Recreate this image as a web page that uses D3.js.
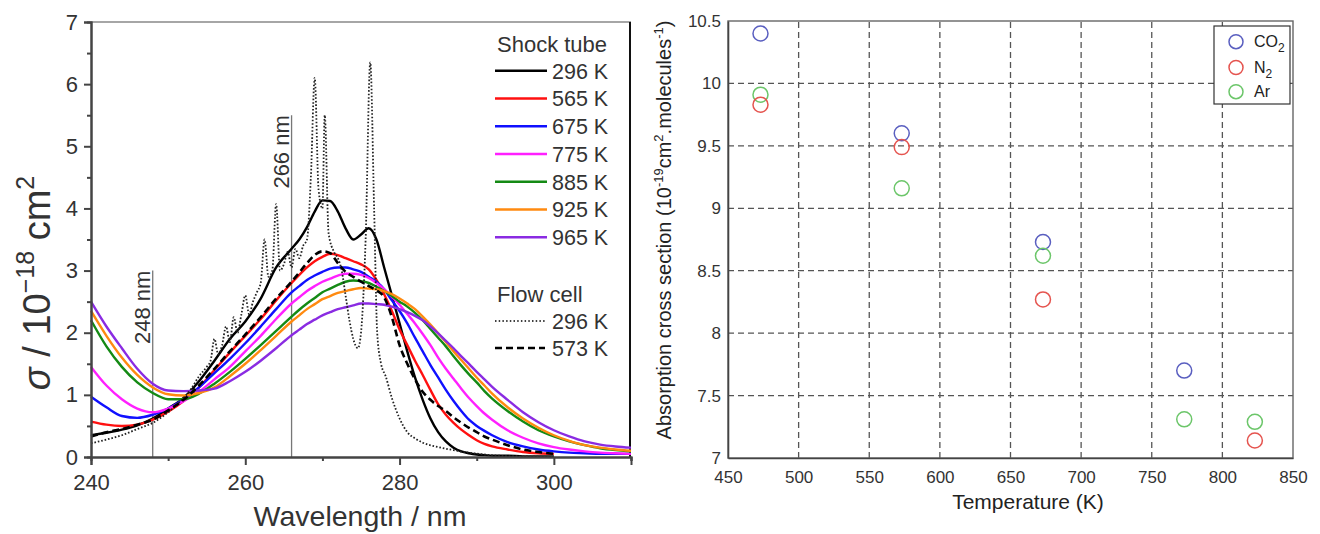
<!DOCTYPE html>
<html>
<head>
<meta charset="utf-8">
<script src="https://cdn.jsdelivr.net/npm/d3@7"></script>
<style>
  body { margin: 0; background: #fff; }
  svg { display: block; font-family: "Liberation Sans", Arial, sans-serif; }
</style>
</head>
<body>
<script>
const width = 1320;
const height = 534;

// ---- left panel: absorption spectra ----
const wl = [240,242,244,246,248,250,252,254,256,258,260,262,264,266,
  267,268,269,270,271,272,273,274,275,276,277,278,279,280,281,282,283,284,285,286,287,288,289,290,291,
  292,294,296,298,300,302,304,306,308,310];

const shock296 = [0.35,0.39,0.44,0.51,0.62,0.78,0.95,1.22,1.55,1.9,2.18,2.55,3.05,3.35,
  3.5,3.7,3.95,4.13,4.12,3.95,3.68,3.5,3.58,3.68,3.5,3.05,2.6,2.15,1.7,1.28,0.92,0.62,0.4,0.25,0.15,0.09,0.06,0.04,0.03,
  0.02,0.02,0.01,0.01,0.01,null,null,null,null,null];
const shock565 = [0.57,0.52,0.5,0.52,0.6,0.73,0.9,1.12,1.4,1.68,1.95,2.22,2.52,2.8,
  2.93,3.05,3.15,3.22,3.27,3.25,3.2,3.15,3.1,3.02,2.85,2.62,2.35,2.05,1.8,1.55,1.32,1.08,0.85,0.68,0.55,0.44,0.35,0.27,0.21,
  0.17,0.12,0.08,0.06,0.05,null,null,null,null,null];
const shock675 = [0.97,0.8,0.66,0.63,0.68,0.78,0.93,1.12,1.35,1.58,1.83,2.1,2.38,2.65,
  2.75,2.85,2.92,2.98,3.03,3.05,3.05,3.02,2.98,2.9,2.82,2.7,2.52,2.35,2.15,1.92,1.7,1.48,1.28,1.08,0.9,0.74,0.6,0.5,0.42,
  0.35,0.24,0.17,0.12,0.09,0.07,0.06,0.05,0.05,0.05];
const shock775 = [1.45,1.15,0.93,0.78,0.72,0.78,0.9,1.05,1.25,1.45,1.7,1.95,2.22,2.47,
  2.57,2.67,2.75,2.82,2.87,2.92,2.95,2.95,2.93,2.88,2.8,2.7,2.58,2.45,2.3,2.15,1.98,1.8,1.6,1.42,1.26,1.1,0.95,0.82,0.7,
  0.6,0.43,0.31,0.22,0.16,0.12,0.09,0.07,0.06,0.05];
const shock885 = [2.2,1.78,1.45,1.2,1.03,0.93,0.93,1.02,1.18,1.37,1.58,1.8,2.03,2.26,
  2.37,2.47,2.56,2.65,2.71,2.77,2.82,2.84,2.83,2.8,2.74,2.67,2.59,2.5,2.42,2.32,2.2,2.06,1.92,1.78,1.62,1.47,1.33,1.2,1.06,
  0.94,0.74,0.57,0.43,0.33,0.25,0.19,0.14,0.11,0.09];
const shock925 = [2.35,1.95,1.6,1.32,1.12,1.01,0.99,1.03,1.12,1.3,1.5,1.72,1.95,2.18,
  2.28,2.38,2.46,2.54,2.59,2.64,2.67,2.7,2.72,2.71,2.7,2.67,2.62,2.55,2.47,2.38,2.26,2.13,1.99,1.85,1.7,1.56,1.42,1.28,1.15,
  1.02,0.8,0.62,0.47,0.35,0.26,0.19,0.15,0.12,0.1];
const shock965 = [2.5,2.1,1.75,1.42,1.18,1.07,1.06,1.07,1.1,1.22,1.37,1.55,1.75,1.96,
  2.05,2.14,2.21,2.28,2.33,2.38,2.41,2.44,2.47,2.47,2.46,2.45,2.42,2.38,2.33,2.27,2.2,2.1,1.99,1.87,1.75,1.62,1.5,1.37,1.25,
  1.13,0.92,0.72,0.56,0.43,0.33,0.25,0.2,0.17,0.15];
const flow573 = [0.33,0.4,0.45,0.52,0.6,0.75,0.92,1.15,1.42,1.7,1.97,2.25,2.55,2.82,
  2.97,3.12,3.25,3.31,3.28,3.12,2.98,2.9,2.82,2.75,2.68,2.57,2.25,1.8,1.5,1.25,1.05,0.92,0.82,0.74,0.64,0.55,0.47,0.4,0.33,
  0.28,0.19,0.12,0.08,0.05,null,null,null,null,null];

const flowWl = [240,242,244,246,248,250,252,253,254,255,255.5,256,256.5,257,257.5,258,258.5,259,259.5,260,
  260.5,261,261.5,262,262.5,263,263.5,264,264.5,265,265.5,266,266.5,267,267.5,268,268.5,269,269.5,270,
  270.3,270.8,271.5,272,272.5,273,273.5,274,274.6,275,275.6,276.2,276.7,277.1,277.6,278.2,279,280,281,282,
  283,285,287,289,291,293,296,300];
const flow296 = [0.22,0.28,0.35,0.45,0.55,0.72,0.95,1.1,1.3,1.45,1.55,1.9,1.65,1.8,2.1,1.85,2.25,2.0,2.3,2.6,
  2.3,2.5,2.65,2.8,3.5,2.9,3.0,4.07,3.0,3.1,3.3,3.05,3.35,3.2,3.4,3.5,4.5,6.1,4.3,4.0,
  5.5,3.6,3.3,3.2,3.0,2.6,2.2,1.9,1.75,2.0,3.5,6.35,4.0,2.0,1.5,1.3,0.95,0.62,0.4,0.3,
  0.23,0.16,0.11,0.07,0.04,0.02,0.01,0.0];

const shockLabels = ["296 K","565 K","675 K","775 K","885 K","925 K","965 K"];
const shockColors = ["#000000","#ff1010","#1010ff","#ff20ff","#148a14","#ff8a10","#8a2be2"];
const shockSeries = [shock296, shock565, shock675, shock775, shock885, shock925, shock965];
const flowLabels = ["296 K","573 K"];

const specXTicks = [240,260,280,300];
const specXMinor = [250,270,290,310];
const specYTicks = [0,1,2,3,4,5,6,7];
const specYMinor = [0.5,1.5,2.5,3.5,4.5,5.5,6.5];
const markLines = [{nm: 248, top: 3.0}, {nm: 266, top: 5.5}];

// ---- right panel: cross section vs temperature ----
const gases = ["CO2","N2","Ar"];
const co2Temp = [473,573,673,773];
const co2Sigma = [10.4,9.6,8.73,7.7];
const n2Temp = [473,573,673,823];
const n2Sigma = [9.83,9.49,8.27,7.14];
const arTemp = [473,573,673,773,823];
const arSigma = [9.91,9.16,8.62,7.31,7.29];
const gasColors = ["#5a5fc0","#e5544f","#6cc66a"];
const tempTicks = [450,500,550,600,650,700,750,800,850];
const sigmaTicks = [7,7.5,8,8.5,9,9.5,10,10.5];

const svg = d3.select('body')
              .append('svg')
              .attr('width', width)
              .attr('height', height);

// ================= left panel =================
const xL = d3.scaleLinear().domain([240, 310]).range([91, 631]);
const yL = d3.scaleLinear().domain([0, 7]).range([457, 22]);

const left = svg.append('g');

// frame top / right
left.append('line').attr('x1', 91).attr('x2', 631).attr('y1', 22).attr('y2', 22)
    .attr('stroke', '#888').attr('stroke-width', 1.5);
left.append('line').attr('x1', 630).attr('x2', 630).attr('y1', 22).attr('y2', 457)
    .attr('stroke', '#111').attr('stroke-width', 2);

// marker lines
markLines.forEach(m => {
    left.append('line')
        .attr('x1', xL(m.nm)).attr('x2', xL(m.nm))
        .attr('y1', yL(0)).attr('y2', yL(m.top))
        .attr('stroke', '#777').attr('stroke-width', 1.3);
    left.append('text')
        .attr('transform', `translate(${xL(m.nm) - 3}, ${yL(m.top)}) rotate(-90)`)
        .attr('text-anchor', 'end')
        .attr('font-size', 22)
        .attr('fill', '#333')
        .text(`${m.nm} nm`);
});

const specLine = d3.line()
    .defined(d => d[1] != null)
    .x(d => xL(d[0]))
    .y(d => yL(d[1]))
    .curve(d3.curveMonotoneX);

shockSeries.forEach((s, i) => {
    left.append('path')
        .attr('d', specLine(wl.map((w, j) => [w, s[j]])))
        .attr('fill', 'none')
        .attr('stroke', shockColors[i])
        .attr('stroke-width', 2.4);
});

left.append('path')
    .attr('d', specLine(flowWl.map((w, j) => [w, flow296[j]])))
    .attr('fill', 'none')
    .attr('stroke', '#222')
    .attr('stroke-width', 1.8)
    .attr('stroke-dasharray', '1.6,1.9');

left.append('path')
    .attr('d', specLine(wl.map((w, j) => [w, flow573[j]])))
    .attr('fill', 'none')
    .attr('stroke', '#000')
    .attr('stroke-width', 2.6)
    .attr('stroke-dasharray', '7,4');

// axes
const xAxisL = d3.axisBottom(xL).tickValues(specXTicks).tickSize(8).tickPadding(9).tickFormat(d3.format('d'));
const xAxisLMinor = d3.axisBottom(xL).tickValues(specXMinor).tickSize(4).tickFormat('');
const yAxisL = d3.axisLeft(yL).tickValues(specYTicks).tickSize(7).tickPadding(6).tickFormat(d3.format('d'));
const yAxisLMinor = d3.axisLeft(yL).tickValues(specYMinor).tickSize(4).tickFormat('');

[[xAxisLMinor, `translate(0, 457)`], [xAxisL, `translate(0, 457)`],
 [yAxisLMinor, `translate(91, 0)`], [yAxisL, `translate(91, 0)`]].forEach(([ax, tr]) => {
    const g = left.append('g').attr('transform', tr).call(ax);
    g.select('.domain').attr('stroke', '#444').attr('stroke-width', 2);
    g.selectAll('.tick line').attr('stroke', '#444').attr('stroke-width', 2);
    g.selectAll('.tick text').attr('font-size', 22).attr('fill', '#333')
     .attr('font-family', '"Liberation Sans", Arial, sans-serif');
});

// axis titles
left.append('text')
    .attr('x', 360).attr('y', 526)
    .attr('text-anchor', 'middle')
    .attr('font-size', 28.5)
    .attr('fill', '#333')
    .text('Wavelength / nm');

const yTitleL = left.append('text')
    .attr('transform', 'translate(50, 283) rotate(-90)')
    .attr('text-anchor', 'middle')
    .attr('font-size', 38)
    .attr('fill', '#333');
yTitleL.append('tspan').attr('font-style', 'italic').text('σ');
yTitleL.append('tspan').text(' / 10');
yTitleL.append('tspan').attr('font-size', 25).attr('dy', -16).text('−18');
yTitleL.append('tspan').attr('dy', 16).text(' cm');
yTitleL.append('tspan').attr('font-size', 25).attr('dy', -16).text('2');

// legend
const legL = left.append('g');
legL.append('text').attr('x', 497).attr('y', 52).attr('font-size', 22).attr('fill', '#333').text('Shock tube');
shockLabels.forEach((lab, i) => {
    const cy = 70.7 + i * 27.75;
    legL.append('line').attr('x1', 495).attr('x2', 547).attr('y1', cy).attr('y2', cy)
        .attr('stroke', shockColors[i]).attr('stroke-width', 2.6);
    legL.append('text').attr('x', 552).attr('y', cy + 8).attr('font-size', 21.5).attr('fill', '#333').text(lab);
});
legL.append('text').attr('x', 497).attr('y', 302).attr('font-size', 22).attr('fill', '#333').text('Flow cell');
flowLabels.forEach((lab, i) => {
    const cy = 321 + i * 27;
    legL.append('line').attr('x1', 495).attr('x2', 545).attr('y1', cy).attr('y2', cy)
        .attr('stroke', '#000')
        .attr('stroke-width', i === 0 ? 1.5 : 2.6)
        .attr('stroke-dasharray', i === 0 ? '1.5,2.2' : '7,4');
    legL.append('text').attr('x', 552).attr('y', cy + 8).attr('font-size', 21.5).attr('fill', '#333').text(lab);
});

// ================= right panel =================
const xR = d3.scaleLinear().domain([450, 850]).range([728, 1293]);
const yR = d3.scaleLinear().domain([7, 10.5]).range([458, 21]);

const right = svg.append('g');

// dashed grid
right.selectAll('.vgrid')
     .data(tempTicks.slice(1, -1))
     .enter()
     .append('line')
     .attr('x1', d => xR(d)).attr('x2', d => xR(d))
     .attr('y1', yR(7)).attr('y2', yR(10.5))
     .attr('stroke', '#555').attr('stroke-width', 1.3).attr('stroke-dasharray', '6,4');
right.selectAll('.hgrid')
     .data(sigmaTicks.slice(1, -1))
     .enter()
     .append('line')
     .attr('x1', xR(450)).attr('x2', xR(850))
     .attr('y1', d => yR(d)).attr('y2', d => yR(d))
     .attr('stroke', '#555').attr('stroke-width', 1.3).attr('stroke-dasharray', '6,4');

right.append('rect')
     .attr('x', xR(450)).attr('y', yR(10.5))
     .attr('width', xR(850) - xR(450)).attr('height', yR(7) - yR(10.5))
     .attr('fill', 'none').attr('stroke', '#666').attr('stroke-width', 1.4);

const xAxisR = d3.axisBottom(xR).tickValues(tempTicks).tickSize(0).tickPadding(13).tickFormat(d3.format('d'));
const yAxisR = d3.axisLeft(yR).tickValues(sigmaTicks).tickSize(0).tickPadding(7).tickFormat(d => d);

[[xAxisR, `translate(0, ${yR(7)})`], [yAxisR, `translate(${xR(450)}, 0)`]].forEach(([ax, tr]) => {
    const g = right.append('g').attr('transform', tr).call(ax);
    g.select('.domain').attr('stroke', '#444').attr('stroke-width', 1.6);
    g.selectAll('.tick text').attr('font-size', 17).attr('fill', '#333')
     .attr('font-family', '"Liberation Sans", Arial, sans-serif');
});

right.append('text')
     .attr('x', 1028).attr('y', 509)
     .attr('text-anchor', 'middle')
     .attr('font-size', 21)
     .attr('fill', '#222')
     .text('Temperature (K)');

const yTitleR = right.append('text')
     .attr('transform', 'translate(671, 230) rotate(-90)')
     .attr('text-anchor', 'middle')
     .attr('font-size', 20)
     .attr('fill', '#222');
yTitleR.append('tspan').text('Absorption cross section (10');
yTitleR.append('tspan').attr('font-size', 13).attr('dy', -8).text('-19');
yTitleR.append('tspan').attr('dy', 8).text('cm');
yTitleR.append('tspan').attr('font-size', 13).attr('dy', -8).text('2');
yTitleR.append('tspan').attr('dy', 8).text('.molecules');
yTitleR.append('tspan').attr('font-size', 13).attr('dy', -8).text('-1');
yTitleR.append('tspan').attr('dy', 8).text(')');

const gasPoints = [
    co2Temp.map((t, i) => ({t: t, s: co2Sigma[i], g: 0})),
    arTemp.map((t, i) => ({t: t, s: arSigma[i], g: 2})),
    n2Temp.map((t, i) => ({t: t, s: n2Sigma[i], g: 1}))
];
gasPoints.forEach(pts => {
    right.selectAll(null)
         .data(pts)
         .enter()
         .append('circle')
         .attr('cx', d => xR(d.t))
         .attr('cy', d => yR(d.s))
         .attr('r', 7.5)
         .attr('fill', 'none')
         .attr('stroke', d => gasColors[d.g])
         .attr('stroke-width', 1.5);
});

// legend
const legR = right.append('g');
legR.append('rect').attr('x', 1214).attr('y', 26).attr('width', 76).attr('height', 78)
    .attr('fill', '#fff').attr('stroke', '#333').attr('stroke-width', 1.2);
gases.forEach((gname, i) => {
    const cy = [41.7, 67.5, 91.7][i];
    legR.append('circle').attr('cx', 1236).attr('cy', cy).attr('r', 7)
        .attr('fill', 'none').attr('stroke', gasColors[i]).attr('stroke-width', 1.5);
    const t = legR.append('text').attr('x', 1254).attr('y', cy + 5.5).attr('font-size', 16).attr('fill', '#222');
    if (gname === 'Ar') {
        t.text('Ar');
    } else {
        t.append('tspan').text(gname.slice(0, -1));
        t.append('tspan').attr('font-size', 12).attr('dy', 5).text('2');
    }
});
</script>
</body>
</html>
